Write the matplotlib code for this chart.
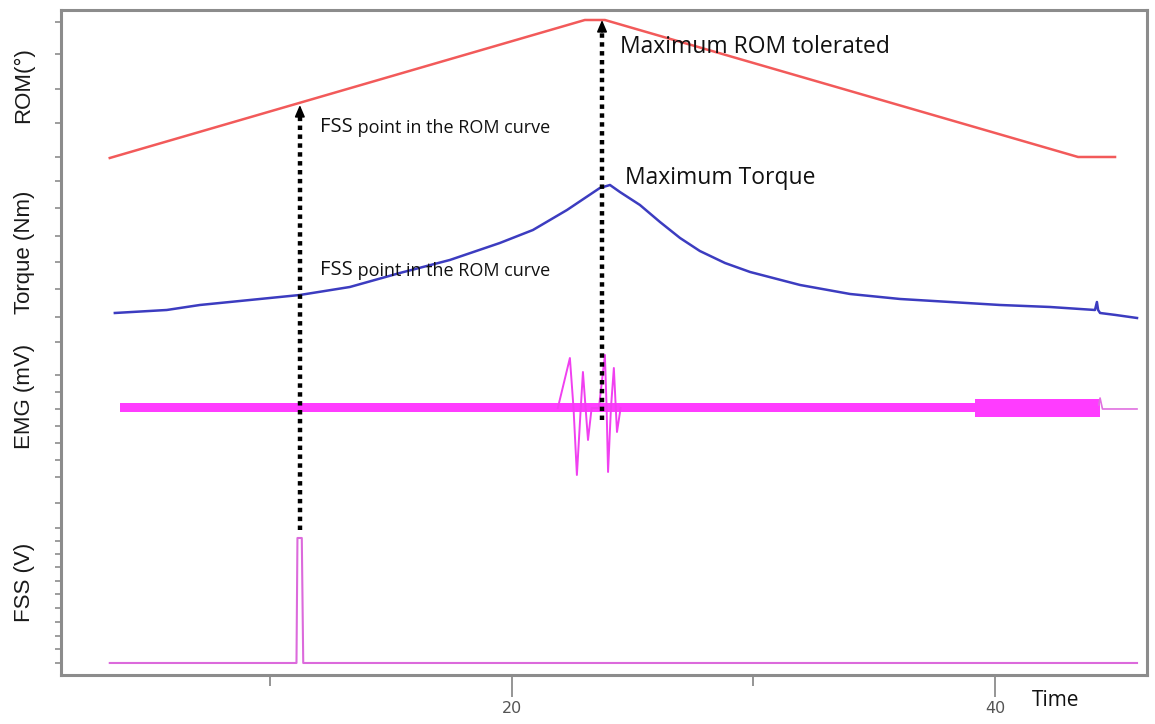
import matplotlib.pyplot as plt

# time axis (s) and stacked channel values (arbitrary units, offset per channel)
rom_t = [3.35, 23.02, 23.85, 43.44, 44.97]
rom_v = [517, 655, 655, 518, 518]

torque_t = [3.56, 5.71, 7.08, 9.15, 11.22, 13.29, 15.36, 17.43, 19.50, 20.87, 22.28,
            23.64, 24.06, 24.47, 25.30, 26.13, 26.96, 27.78, 28.82, 29.86, 31.93,
            34.00, 36.07, 38.14, 40.21, 42.28, 44.14, 44.22, 44.27, 44.35, 45.0, 45.88]
torque_v = [362, 365, 370, 375, 380, 388, 402, 415, 432, 445, 465,
            487, 490, 483, 470, 453, 437, 424, 412, 403, 390,
            381, 376, 373, 370, 368, 365, 373, 365, 362, 360, 357]

emg_band_t = [3.77, 39.17, 39.17, 44.35]
emg_band_lo = [262.5, 262.5, 258, 258]
emg_band_hi = [271.5, 271.5, 276, 276]
burst_t = [21.9, 22.40, 22.55, 22.69, 22.85, 22.94, 23.05, 23.15, 23.3, 23.6,
           23.85, 23.92, 23.98, 24.1, 24.22, 24.3, 24.35, 24.5]
burst_v = [267, 317, 267, 200, 267, 303, 267, 235, 267, 267,
           320, 267, 203, 267, 307, 267, 243, 267]
emg_tail_t = [44.3, 44.35, 44.45, 45.88]
emg_tail_v = [270, 277, 266, 266]

fss_t = [3.35, 11.08, 11.12, 11.30, 11.36, 45.88]
fss_v = [12, 12, 137, 137, 12, 12]

ytick_pos = [653, 621, 586, 552, 518, 494, 467, 439, 413, 386, 358, 333, 300, 283,
             266, 249, 232, 215, 198, 172, 147, 134, 121, 108, 94, 81, 67, 53, 39, 26, 12]
channel_labels = ['ROM(°)', 'Torque (Nm)', 'EMG (mV)', 'FSS (V)']
channel_label_y = [590, 423, 279, 93]

fig = plt.figure(figsize=(11.55, 7.24), dpi=100)
ax = fig.add_axes([0.0528, 0.0677, 0.9402, 0.9185])
ax.set_xlim(1.33, 46.29)
ax.set_ylim(0, 665)

ax.plot(rom_t, rom_v, color='#f25a5a', lw=1.8)
ax.plot(torque_t, torque_v, color='#3c3cc0', lw=1.8)
ax.fill_between(emg_band_t, emg_band_lo, emg_band_hi, color='#ff3cff', lw=0)
ax.plot(burst_t, burst_v, color='#f040f0', lw=1.4)
ax.plot(emg_tail_t, emg_tail_v, color='#e070e0', lw=1.2)
ax.plot(fss_t, fss_v, color='#dc6adc', lw=1.5)

# dotted arrows
dot_color = 'black'
for t, y0, y1 in [(11.22, 145, 570), (23.73, 255, 655)]:
    ax.plot([t, t], [y0, y1 - 10], color=dot_color, lw=3.2, ls=(0, (1, 1)))
    ax.annotate('', xy=(t, y1), xytext=(t, y1 - 12),
                arrowprops=dict(arrowstyle='-|>,head_width=0.3,head_length=0.7',
                                color=dot_color, lw=1.2, shrinkA=0, shrinkB=0))

txt_font = 'Open Sans'
ax.text(24.47, 628, 'Maximum ROM tolerated', fontsize=16.5, family=txt_font,
        va='center', ha='left', color='#111111')
ax.text(24.68, 497, 'Maximum Torque', fontsize=16.5, family=txt_font,
        va='center', ha='left', color='#111111')
for y in [548, 405]:
    first = ax.text(12.05, y, 'FSS', fontsize=14.5, family=txt_font,
                    va='center', ha='left', color='#111111')
    ax.annotate(' point in the ROM curve', xy=(1, 0), xycoords=first,
                fontsize=13, family=txt_font, va='bottom', ha='left', color='#111111')

# axes styling
for s in ax.spines.values():
    s.set_color('#8c8c8c')
    s.set_linewidth(2.2)
ax.set_yticks(ytick_pos)
ax.set_yticklabels([])
ax.tick_params(axis='y', length=4, width=1.2, color='#8c8c8c')

ax.set_xticks([20, 40])
ax.set_xticklabels(['20', '40'], fontsize=11.5, color='#555555')
ax.tick_params(axis='x', length=16, width=1.3, color='#8c8c8c', pad=3)
ax.set_xticks([10, 30], minor=True)
ax.tick_params(axis='x', which='minor', length=8, width=1.3, color='#8c8c8c')

for lab, y in zip(channel_labels, channel_label_y):
    ax.text(-0.034, y, lab, transform=ax.get_yaxis_transform(), rotation=90,
            fontsize=16, family='Liberation Sans', va='center', ha='center',
            color='#1a1a1a')

fig.text(0.914, 0.033, 'Time', fontsize=15, family=txt_font, va='center',
         ha='center', color='#111111')

fig.savefig('out.png', dpi=100)
